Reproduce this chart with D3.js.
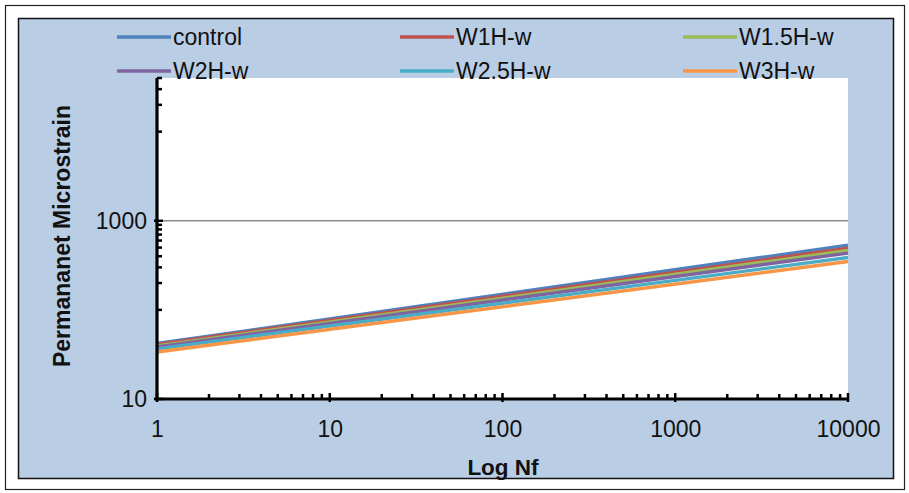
<!DOCTYPE html>
<html><head><meta charset="utf-8">
<script src="https://cdn.jsdelivr.net/npm/d3@7"></script>
<style>body{margin:0;background:#fff}svg{display:block}</style>
</head><body>
<svg id="c" width="909" height="493"></svg>
<script>
// ---- data ----
const seriesNames = ["control","W1H-w","W1.5H-w","W2H-w","W2.5H-w","W3H-w"];
const seriesColors = ["#4F81BD","#C0504D","#9BBB59","#8064A2","#4BACC6","#F79646"];
const nfPoints = [1, 10000];
const control = [42.0, 533];
const w1h = [41.0, 493];
const w15h = [39.4, 464];
const w2h = [38.4, 434];
const w25h = [36.5, 387];
const w3h = [33.7, 349];
const seriesValues = [control, w1h, w15h, w2h, w25h, w3h];
const xTickLabels = [1, 10, 100, 1000, 10000];
const yTickLabels = [10, 1000];
const xMinorTicks = [2,3,4,5,6,7,8,9,20,30,40,50,60,70,80,90,200,300,400,500,600,700,800,900,2000,3000,4000,5000,6000,7000,8000,9000];
const yMinorTicks = [100,200,300,400,500,600,700,800,900,10000,20000,30000,40000];
const gridValues = [1000];

const svg = d3.select("#c");
const FONT = "'Liberation Sans', Arial, sans-serif";

// outer frame
svg.append("rect").attr("x",5.5).attr("y",5.5).attr("width",899).attr("height",484)
  .attr("fill","#fff").attr("stroke","#222").attr("stroke-width",1.2);
// chart panel
svg.append("rect").attr("x",18.5).attr("y",18.5).attr("width",875).attr("height",460)
  .attr("fill","#B9CDE5").attr("stroke","#111").attr("stroke-width",1.5);

const L = 157, R = 848, T = 78, B = 399;
const x = d3.scaleLog().domain([1, 10000]).range([L, R]);
const y = d3.scaleLog().domain([10, 40000]).range([B, T]);

// plot area
svg.append("rect").attr("x",L).attr("y",T).attr("width",R-L).attr("height",B-T).attr("fill","#fff");

// gridline
svg.selectAll(".grid").data(gridValues).join("line")
  .attr("x1",L).attr("x2",R).attr("y1",d=>y(d)).attr("y2",d=>y(d))
  .attr("stroke","#8c8c8c").attr("stroke-width",1.6);

// series
const line = d3.line().x(d=>x(d[0])).y(d=>y(d[1]));
seriesValues.forEach((vals,i)=>{
  const pts = nfPoints.map((n,j)=>[n, vals[j]]);
  svg.append("path").attr("d", line(pts)).attr("fill","none")
    .attr("stroke", seriesColors[i]).attr("stroke-width",3.4);
});

// axes
const yAxis = d3.axisLeft(y).tickValues(yTickLabels).tickFormat(d3.format("d")).tickSize(0).tickPadding(10);
const gy = svg.append("g").attr("transform",`translate(${L},0)`).call(yAxis);
gy.select(".domain").remove();
gy.selectAll("text").attr("font-family",FONT).attr("font-size",23).attr("fill","#111");

const xAxis = d3.axisBottom(x).tickValues(xTickLabels).tickFormat(d3.format("d")).tickSize(0).tickPadding(22);
const gx = svg.append("g").attr("transform",`translate(0,${B})`).call(xAxis);
gx.select(".domain").remove();
gx.selectAll("text").attr("font-family",FONT).attr("font-size",23).attr("fill","#111");

// minor ticks (inside)
svg.selectAll(".ymt").data(yMinorTicks).join("line")
  .attr("x1",L).attr("x2",L+5).attr("y1",d=>y(d)).attr("y2",d=>y(d))
  .attr("stroke","#000").attr("stroke-width",2.5);
svg.selectAll(".yMaj").data(yTickLabels).join("line")
  .attr("x1",L-3).attr("x2",L+6).attr("y1",d=>y(d)).attr("y2",d=>y(d))
  .attr("stroke","#000").attr("stroke-width",2.5);
svg.selectAll(".xmt").data(xMinorTicks).join("line")
  .attr("x1",d=>x(d)).attr("x2",d=>x(d)).attr("y1",B).attr("y2",B-5)
  .attr("stroke","#000").attr("stroke-width",2.5);
svg.selectAll(".xMaj").data(xTickLabels).join("line")
  .attr("x1",d=>x(d)).attr("x2",d=>x(d)).attr("y1",B-6).attr("y2",B+3)
  .attr("stroke","#000").attr("stroke-width",2.5);

// axis lines
svg.append("line").attr("x1",L).attr("x2",L).attr("y1",T).attr("y2",B+1.5).attr("stroke","#000").attr("stroke-width",3.2);
svg.append("line").attr("x1",L-1.5).attr("x2",R).attr("y1",B).attr("y2",B).attr("stroke","#000").attr("stroke-width",3.2);

// axis titles
svg.append("text").attr("x",503).attr("y",475).attr("text-anchor","middle")
  .attr("font-family",FONT).attr("font-weight","bold").attr("font-size",22.5).attr("fill","#111").text("Log Nf");
svg.append("text").attr("transform","translate(70,236) rotate(-90)").attr("text-anchor","middle")
  .attr("font-family",FONT).attr("font-weight","bold").attr("font-size",23).attr("fill","#111").text("Permananet Microstrain");

// legend
const legX = [117, 400, 683], legY = [37, 71];
seriesNames.forEach((name,i)=>{
  const cx = legX[i%3], cy = legY[Math.floor(i/3)];
  svg.append("line").attr("x1",cx).attr("x2",cx+54).attr("y1",cy).attr("y2",cy)
    .attr("stroke",seriesColors[i]).attr("stroke-width",3.5);
  svg.append("text").attr("x",cx+56).attr("y",cy+8).attr("font-family",FONT)
    .attr("font-size",23).attr("fill","#111").text(name);
});
</script>
</body></html>
